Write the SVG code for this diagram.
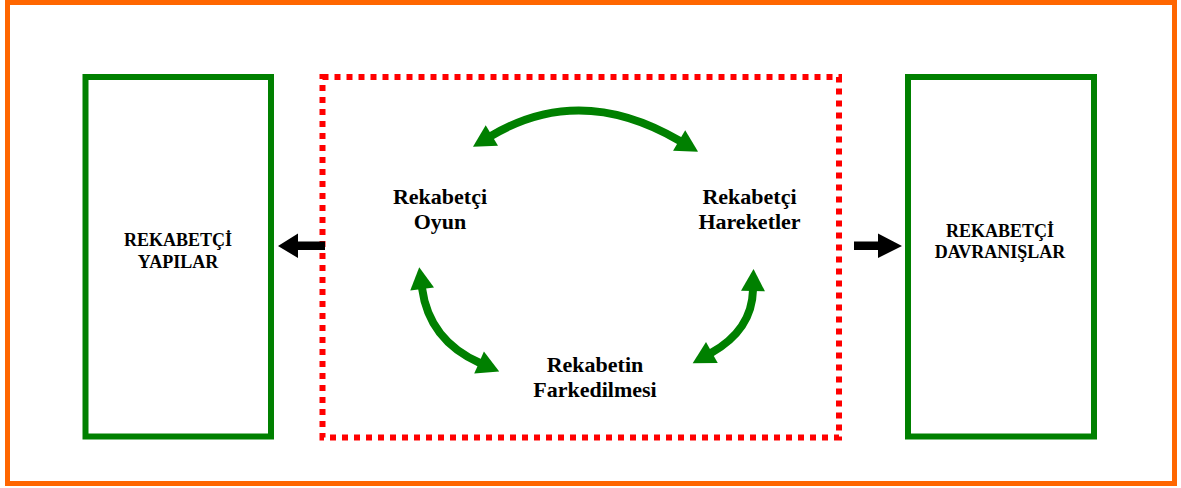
<svg xmlns="http://www.w3.org/2000/svg" width="1181" height="488" viewBox="0 0 1181 488">
  <style>
    .frame { fill: none; stroke: #FF6600; stroke-width: 5; }
    .box { fill: none; stroke: #008000; stroke-width: 6; }
    .zone { fill: none; stroke: #FF0000; stroke-width: 6; stroke-dasharray: 6 6; }
    .lbl { font-family: "Liberation Serif", "Times New Roman", serif; font-weight: bold; fill: #000; text-anchor: middle; }
    .big { font-size: 22px; }
    .small { font-size: 18px; }
    .cycle { fill: none; stroke: #008000; stroke-width: 8; marker-start: url(#gh); marker-end: url(#gh); }
    .push { fill: #000; }
  </style>
  <defs>
    <marker id="gh" markerUnits="userSpaceOnUse" markerWidth="23" markerHeight="24" refX="1" refY="12" orient="auto-start-reverse" overflow="visible">
      <path d="M0,0 L22,12 L0,24 Z" fill="#008000"/>
    </marker>
  </defs>

  <rect class="frame" x="7.5" y="2.5" width="1167" height="481"/>

  <g id="structures">
    <rect class="box" x="85.5" y="77" width="185.5" height="359.5"/>
    <text class="lbl small" x="178" y="246">REKABETÇİ</text>
    <text class="lbl small" x="178" y="268">YAPILAR</text>
  </g>

  <g id="interaction-zone">
    <rect class="zone" x="322.5" y="77" width="516.5" height="360.5"/>
  </g>

  <g id="game">
    <text class="lbl big" x="440" y="204">Rekabetçi</text>
    <text class="lbl big" x="440" y="229">Oyun</text>
  </g>

  <g id="moves">
    <text class="lbl big" x="749.5" y="204">Rekabetçi</text>
    <text class="lbl big" x="749.5" y="229">Hareketler</text>
  </g>

  <g id="recognition">
    <text class="lbl big" x="595" y="372">Rekabetin</text>
    <text class="lbl big" x="595" y="397">Farkedilmesi</text>
  </g>

  <g id="behaviours">
    <rect class="box" x="908" y="77" width="186" height="359.5"/>
    <text class="lbl small" x="1000" y="237">REKABETÇİ</text>
    <text class="lbl small" x="1000" y="258">DAVRANIŞLAR</text>
  </g>

  <g id="connectors">
    <path class="cycle" d="M491,136 Q580.5,82.5 680,141"/>
    <path class="cycle" d="M422,288 Q429,340.5 480,363"/>
    <path class="cycle" d="M753,290 Q752,330 711,353"/>
    <polygon class="push" points="325,241.5 298,241.5 298,233.5 278,246 298,258 298,250 325,250"/>
    <polygon class="push" points="854,241.5 878,241.5 878,233.5 902,246 878,258 878,250 854,250"/>
  </g>
</svg>
